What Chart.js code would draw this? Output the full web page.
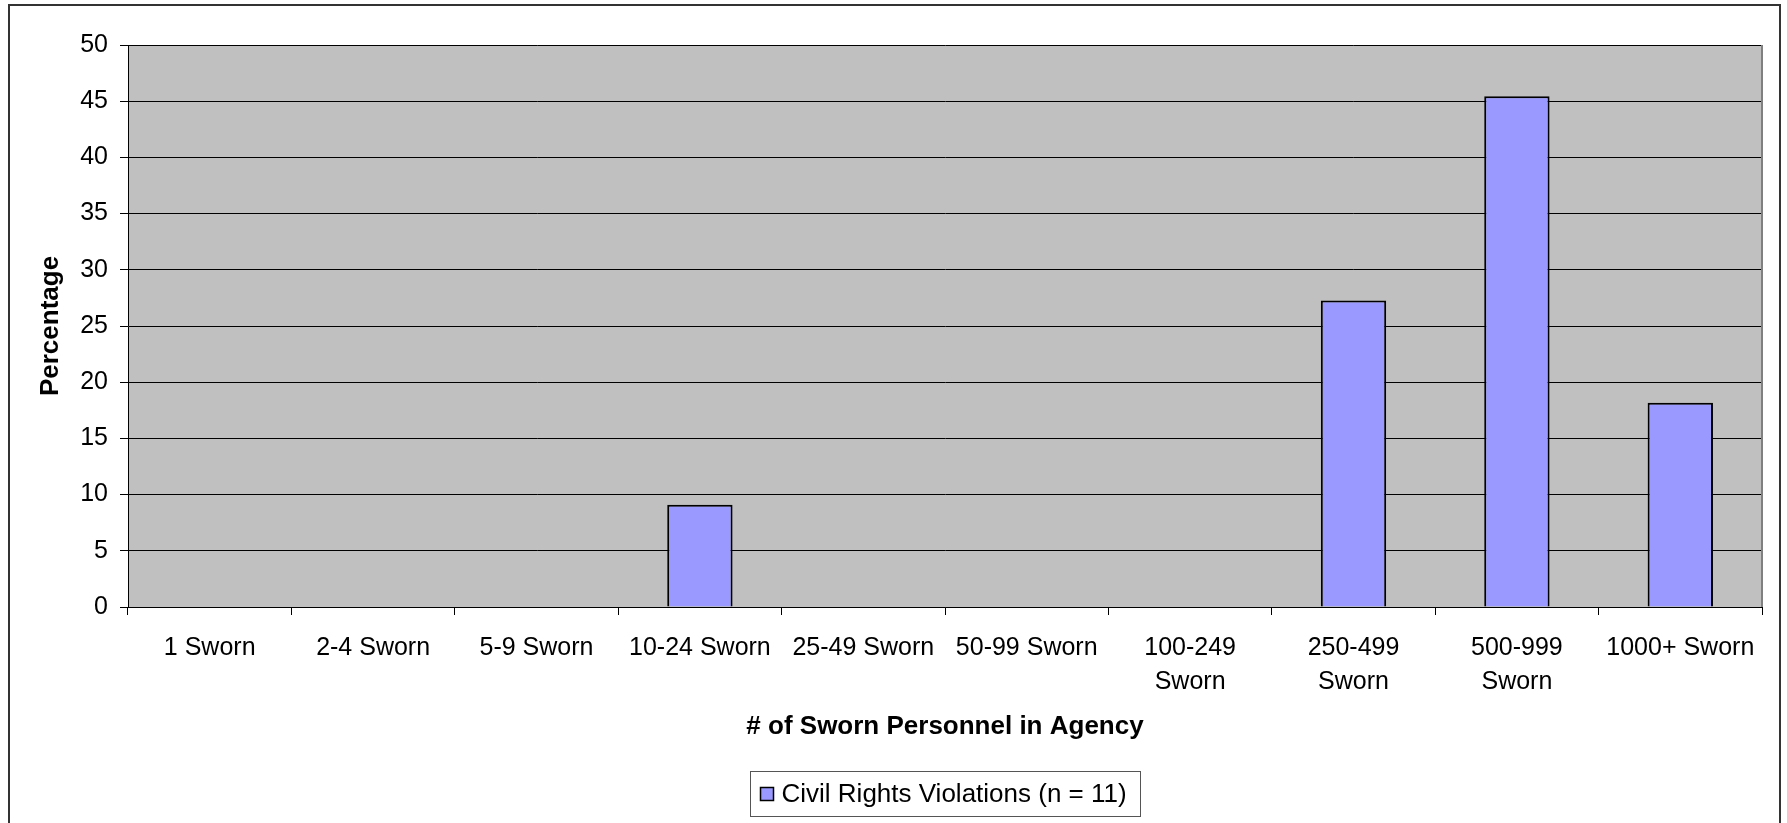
<!DOCTYPE html>
<html>
<head>
<meta charset="utf-8">
<script src="https://cdn.jsdelivr.net/npm/chart.js@4/dist/chart.umd.min.js"></script>
<style>
  html, body { margin: 0; padding: 0; background: #fff; }
  #wrap { width: 1787px; height: 823px; }
</style>
</head>
<body>
<div id="wrap"><canvas id="myChart" width="1787" height="823"></canvas></div>
<script>
var categories = [
  "1 Sworn", "2-4 Sworn", "5-9 Sworn", "10-24 Sworn", "25-49 Sworn",
  "50-99 Sworn", ["100-249", "Sworn"], ["250-499", "Sworn"], ["500-999", "Sworn"], "1000+ Sworn"
];
var percentages = [0, 0, 0, 9.09, 0, 0, 0, 27.27, 45.45, 18.18];
var seriesName = "Civil Rights Violations (n = 11)";
var xTitle = "# of Sworn Personnel in Agency";
var yTitle = "Percentage";
var yTicks = [0, 5, 10, 15, 20, 25, 30, 35, 40, 45, 50];

var sans = "'Liberation Sans', Arial, sans-serif";

// plot background, outer frame and the boxed legend
var excelLook = {
  id: 'excelLook',
  beforeDraw: function(chart) {
    var a = chart.chartArea, c = chart.ctx;
    c.save();
    c.fillStyle = '#C0C0C0';
    c.fillRect(a.left, a.top, a.right - a.left, a.bottom - a.top);
    c.restore();
  },
  afterDraw: function(chart) {
    var a = chart.chartArea, c = chart.ctx;
    c.save();
    // plot right edge
    c.strokeStyle = '#808080';
    c.lineWidth = 2;
    c.beginPath();
    c.moveTo(a.right, a.top);
    c.lineTo(a.right, a.bottom);
    c.stroke();
    // outer frame
    c.strokeStyle = '#333';
    c.lineWidth = 2;
    c.beginPath();
    c.moveTo(9, 830);
    c.lineTo(9, 5);
    c.lineTo(1780, 5);
    c.lineTo(1780, 830);
    c.stroke();
    // legend, centred under the plot
    var w = 390, h = 45;
    var lx = Math.round((a.left + a.right) / 2 - w / 2) + 0.5, ly = 771.5;
    c.strokeStyle = '#555';
    c.lineWidth = 1;
    c.strokeRect(lx, ly, w, h);
    c.fillStyle = '#9999FF';
    c.fillRect(lx + 10, ly + 16, 13, 13);
    c.strokeStyle = '#000';
    c.lineWidth = 1.5;
    c.strokeRect(lx + 10, ly + 16, 13, 13);
    c.fillStyle = '#000';
    c.font = '26px ' + sans;
    c.textAlign = 'left';
    c.textBaseline = 'middle';
    c.fillText(seriesName, lx + 31, ly + h / 2 + 1);
    c.restore();
  }
};

var ctx = document.getElementById('myChart');
var myChart = new Chart(ctx, {
  type: 'bar',
  data: {
    labels: categories,
    datasets: [{
      label: seriesName,
      data: percentages,
      backgroundColor: '#9999FF',
      borderColor: '#000000',
      borderWidth: 2,
      barPercentage: 0.4,
      categoryPercentage: 1.0
    }]
  },
  plugins: [excelLook],
  options: {
    responsive: false,
    animation: false,
    layout: { padding: { left: 0, top: 45, right: 25, bottom: 0 } },
    plugins: {
      legend: { display: false },
      tooltip: { enabled: false }
    },
    scales: {
      x: {
        afterFit: function(scale) { scale.height = 216; },
        grid: { offset: true, drawOnChartArea: false, color: '#000', tickLength: 8, lineWidth: 1 },
        border: { color: '#000', width: 1 },
        ticks: {
          color: '#000',
          padding: 16,
          maxRotation: 0,
          autoSkip: false,
          font: { family: sans, size: 25, lineHeight: 1.36 }
        },
        title: {
          display: true,
          text: xTitle,
          color: '#000',
          font: { family: sans, size: 26, weight: 'bold', lineHeight: 1.2 },
          padding: { top: 0, bottom: 81 }
        }
      },
      y: {
        min: 0,
        max: 50,
        afterFit: function(scale) { scale.width = 128; },
        afterBuildTicks: function(scale) {
          scale.ticks = yTicks.map(function(v) { return { value: v }; });
        },
        grid: { color: '#000', tickLength: 8, lineWidth: 1 },
        border: { color: '#000', width: 1 },
        ticks: {
          color: '#000',
          padding: 12,
          font: { family: sans, size: 25 }
        },
        title: {
          display: true,
          text: yTitle,
          color: '#000',
          font: { family: sans, size: 26, weight: 'bold', lineHeight: 1.2 },
          padding: { top: 35, bottom: 0 }
        }
      }
    }
  }
});
</script>
</body>
</html>
